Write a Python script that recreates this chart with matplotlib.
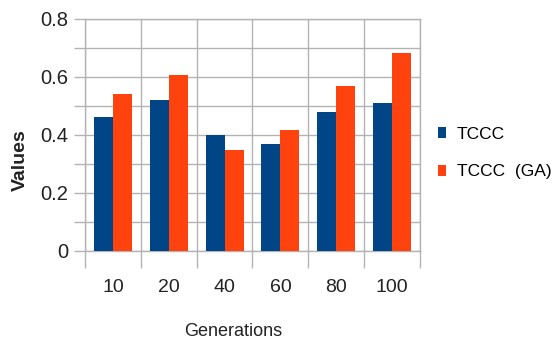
import matplotlib
matplotlib.use('Agg')
import matplotlib.pyplot as plt
import numpy as np

plt.rcParams['font.family'] = ['Liberation Sans', 'DejaVu Sans']

# Dados
geracoes = ['10', '20', '40', '60', '80', '100']
tccc = [0.462, 0.52, 0.40, 0.37, 0.48, 0.51]
tccc_ga = [0.541, 0.607, 0.348, 0.418, 0.57, 0.683]

azul = '#004586'
laranja = '#ff420e'
cinza = '#b3b3b3'

fig = plt.figure(figsize=(5.57, 3.45), dpi=100)
ax = fig.add_axes([85 / 557, 1 - 251 / 345, 335 / 557, 232 / 345])

x = np.arange(len(geracoes))
largura = 0.34
b1 = ax.bar(x - largura / 2, tccc, largura, color=azul, label='TCCC', zorder=3)
b2 = ax.bar(x + largura / 2, tccc_ga, largura, color=laranja, label='TCCC  (GA)', zorder=3)

ax.set_xlim(-0.5, len(geracoes) - 0.5)
ax.set_ylim(0, 0.8)

# Eixo y: ticks maiores com rótulo, menores só com grade
ax.set_yticks(np.arange(0, 0.81, 0.2))
ax.set_yticklabels(['0', '0.2', '0.4', '0.6', '0.8'])
ax.set_yticks(np.arange(0.1, 0.8, 0.2), minor=True)
ax.tick_params(axis='y', which='both', length=8, color=cinza, width=1,
               labelsize=14.5, pad=4, labelcolor='#222222')

# Eixo x: rótulos no centro, linhas entre categorias
ax.set_xticks(x)
ax.set_xticklabels(geracoes)
ax.set_xticks(np.arange(-0.5, len(geracoes), 1), minor=True)
ax.tick_params(axis='x', which='major', length=0, labelsize=14, pad=20,
               labelcolor='#222222')
ax.tick_params(axis='x', which='minor', length=12, color=cinza, width=1)

ax.grid(True, which='minor', color=cinza, linewidth=1, zorder=0)
ax.grid(True, which='major', axis='y', color=cinza, linewidth=1, zorder=0)
ax.set_axisbelow(True)
for s in ax.spines.values():
    s.set_color(cinza)
    s.set_linewidth(1)

fig.text(233.5 / 557, 1 - 332 / 345, 'Generations', ha='center', va='center',
         fontsize=13, color='#222222')
fig.text(20 / 557, 1 - 160 / 345, 'Values', ha='center', va='center',
         rotation=90, fontsize=14, fontweight='bold', color='#222222')

fig.legend(handles=[b1, b2], loc='center left', bbox_to_anchor=(438 / 557, 1 - 153 / 345),
           frameon=False, fontsize=12.5, handlelength=0.45, handleheight=0.6,
           handletextpad=0.65, labelspacing=1.3, borderpad=0, borderaxespad=0)

fig.savefig('out.png', dpi=100)
